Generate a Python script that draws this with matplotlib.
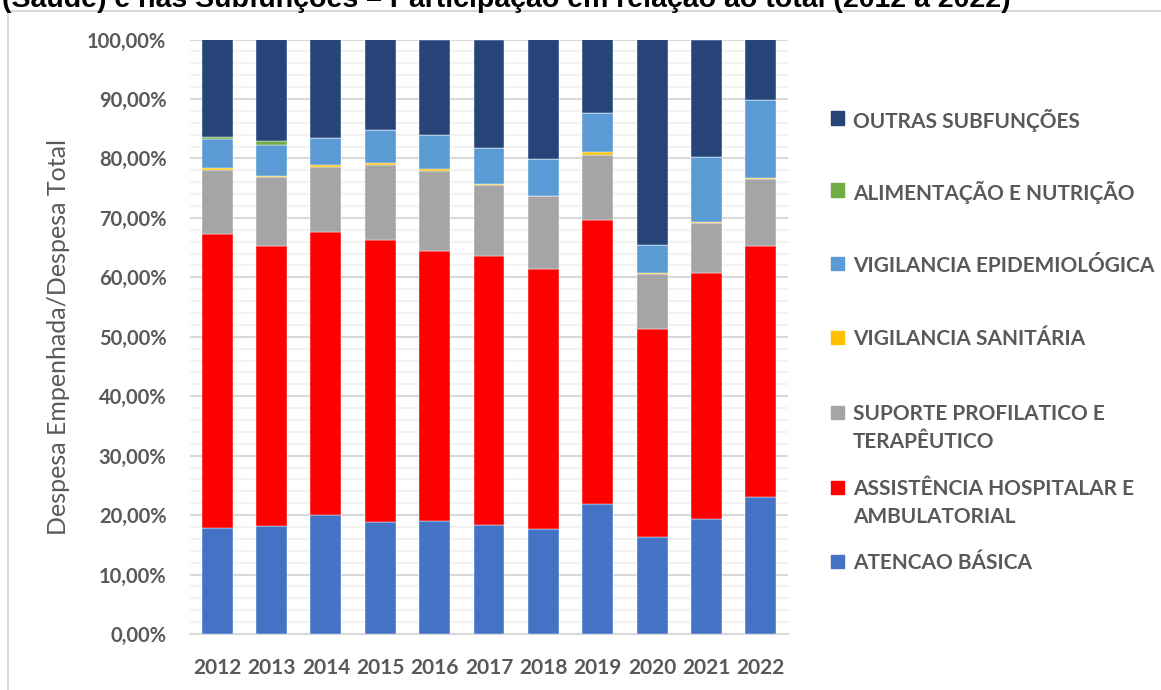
"""Despesa por subfunção de saúde - participação em relação ao total (2012 a 2022)"""

import matplotlib

matplotlib.use("Agg")
from matplotlib import pyplot as plt
from matplotlib.lines import Line2D
from matplotlib.patches import Rectangle
from matplotlib.ticker import FuncFormatter, MultipleLocator

plt.rcParams["font.family"] = ["Lato", "DejaVu Sans"]

years = ["2012", "2013", "2014", "2015", "2016", "2017", "2018", "2019", "2020", "2021", "2022"]

# percentuais (de baixo para cima)
atencao_basica = [17.9, 18.1, 20.1, 18.8, 19.0, 18.3, 17.7, 21.8, 16.3, 19.4, 23.0]
assistencia = [49.4, 47.2, 47.6, 47.4, 45.5, 45.3, 43.7, 47.8, 35.0, 41.4, 42.3]
suporte = [10.7, 11.5, 10.8, 12.7, 13.4, 11.9, 12.2, 11.0, 9.3, 8.4, 11.2]
vig_sanitaria = [0.4, 0.3, 0.4, 0.4, 0.3, 0.2, 0.1, 0.4, 0.1, 0.1, 0.2]
vig_epidemiologica = [4.8, 5.2, 4.5, 5.4, 5.8, 6.0, 6.2, 6.7, 4.8, 10.9, 13.1]
alimentacao = [0.4, 0.7, 0.0, 0.0, 0.0, 0.0, 0.0, 0.0, 0.0, 0.0, 0.0]
outras = [16.4, 17.0, 16.6, 15.3, 16.0, 18.3, 20.1, 12.3, 34.5, 19.8, 10.2]

series = [
    ("ATENCAO BÁSICA", atencao_basica, "#4472C4"),
    ("ASSISTÊNCIA HOSPITALAR E\nAMBULATORIAL", assistencia, "#FF0000"),
    ("SUPORTE PROFILATICO E\nTERAPÊUTICO", suporte, "#A5A5A5"),
    ("VIGILANCIA SANITÁRIA", vig_sanitaria, "#FFC000"),
    ("VIGILANCIA EPIDEMIOLÓGICA", vig_epidemiologica, "#5B9BD5"),
    ("ALIMENTAÇÃO E NUTRIÇÃO", alimentacao, "#70AD47"),
    ("OUTRAS SUBFUNÇÕES", outras, "#264478"),
]

# posição (px a partir do topo) das linhas de cada item da legenda
legend_rows = {
    "OUTRAS SUBFUNÇÕES": [118],
    "ALIMENTAÇÃO E NUTRIÇÃO": [190],
    "VIGILANCIA EPIDEMIOLÓGICA": [264],
    "VIGILANCIA SANITÁRIA": [337],
    "SUPORTE PROFILATICO E\nTERAPÊUTICO": [412, 440],
    "ASSISTÊNCIA HOSPITALAR E\nAMBULATORIAL": [487, 515],
    "ATENCAO BÁSICA": [561],
}

TEXT_GRAY = "#595959"
W, H = 1161, 690


def main():
    fig = plt.figure(figsize=(W / 100, H / 100), dpi=100)
    ax = fig.add_axes([190 / W, (H - 634) / H, (788 - 190) / W, (634 - 39.5) / H])

    x = list(range(len(years)))
    bottom = [0.0] * len(years)
    for label, values, color in series:
        ax.bar(x, values, width=0.57, bottom=bottom, color=color,
               edgecolor="white", linewidth=0.3, zorder=3)
        bottom = [b + v for b, v in zip(bottom, values)]

    ax.set_xlim(-0.5, len(years) - 0.5)
    ax.set_ylim(0, 100)
    ax.set_xticks(x)
    ax.set_xticklabels(years)
    ax.yaxis.set_major_locator(MultipleLocator(10))
    ax.yaxis.set_minor_locator(MultipleLocator(2))
    ax.yaxis.set_major_formatter(
        FuncFormatter(lambda v, _: f"{v:.2f}".replace(".", ",") + "%")
    )
    ax.grid(axis="y", which="minor", color="#f2f2f2", linewidth=1.5, zorder=0)
    ax.grid(axis="y", which="major", color="#d9d9d9", linewidth=1.5, zorder=1)
    for side in ("top", "right", "left"):
        ax.spines[side].set_visible(False)
    ax.spines["bottom"].set_color("#d9d9d9")
    ax.spines["bottom"].set_linewidth(1.5)
    ax.tick_params(axis="both", which="both", length=0)
    ax.tick_params(axis="y", pad=17, labelsize=14.5, labelcolor=TEXT_GRAY)
    ax.tick_params(axis="x", pad=17, labelsize=15, labelcolor=TEXT_GRAY)
    for lab in ax.get_xticklabels() + ax.get_yticklabels():
        lab.set_fontweight("bold")

    fig.text(59 / W, 1 - 337 / H, "Despesa Empenhada/Despesa Total", rotation=90,
             ha="center", va="center", fontsize=18, color=TEXT_GRAY)

    # legenda manual (espaçamento irregular como no Excel)
    for label, values, color in series:
        rows = legend_rows[label]
        fig.patches.append(Rectangle((831 / W, 1 - (rows[0] + 6.5) / H), 13 / W, 13 / H,
                                     transform=fig.transFigure, color=color))
        for line, yy in zip(label.split("\n"), rows):
            fig.text(853 / W, 1 - yy / H, line, ha="left", va="center_baseline",
                     fontsize=15, fontweight="bold", color=TEXT_GRAY)

    # moldura da área do gráfico
    fig.lines.append(Line2D([8 / W, 8 / W], [0, 1 - 10.5 / H], transform=fig.transFigure,
                            color="#d9d9d9", linewidth=1.5))
    fig.lines.append(Line2D([8 / W, 1], [1 - 10.5 / H, 1 - 10.5 / H], transform=fig.transFigure,
                            color="#d9d9d9", linewidth=1.5))

    # título cortado no topo
    fig.text(0.002, 1 - 7 / H,
             "(Saúde) e nas Subfunções – Participação em relação ao total (2012 a 2022)",
             ha="left", va="baseline", fontsize=20.5, fontweight="bold", color="black",
             family=["Liberation Sans", "DejaVu Sans"])

    fig.savefig("out.png", dpi=100)


if __name__ == "__main__":
    main()
